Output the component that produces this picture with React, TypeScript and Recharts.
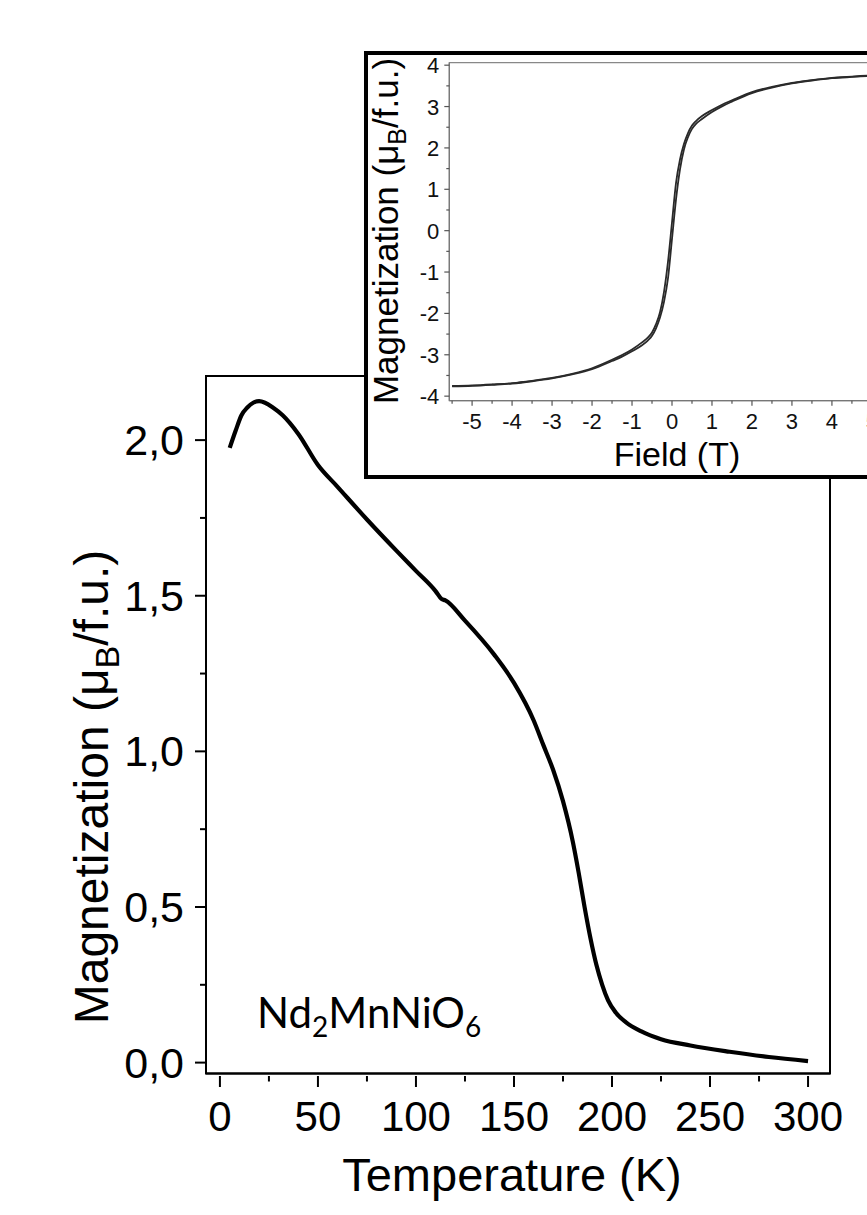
import React from 'react';
import { LineChart, Line, XAxis, YAxis, ReferenceArea, Label } from 'recharts';

// ---------- Main panel: M(T) ----------
const temperatureK = [5, 8, 11, 14, 17, 20, 23, 27, 32, 40, 50, 60, 75, 90, 100, 110, 113, 115, 125, 140, 150, 160, 165, 170, 175, 180, 183, 186, 189, 192, 195, 198, 202, 207, 215, 225, 240, 260, 280, 300];
const magnetizationMT = [1.975, 2.03, 2.08, 2.105, 2.12, 2.125, 2.12, 2.105, 2.08, 2.02, 1.92, 1.85, 1.745, 1.645, 1.58, 1.515, 1.49, 1.485, 1.42, 1.31, 1.22, 1.1, 1.02, 0.94, 0.84, 0.71, 0.61, 0.5, 0.4, 0.315, 0.25, 0.2, 0.16, 0.13, 0.1, 0.075, 0.055, 0.035, 0.018, 0.005];
const tempMajorTicks = [0, 50, 100, 150, 200, 250, 300];
const tempMinorTicks = [25, 75, 125, 175, 225, 275];
const mMajorTicks = [0, 0.5, 1, 1.5, 2];
const mMinorTicks = [0.25, 0.75, 1.25, 1.75];
const TEMP_DOMAIN: [number, number] = [-7.1, 311.2];
const M_DOMAIN: [number, number] = [-0.035, 2.206];

// ---------- Inset: M(H) loop ----------
const fieldT = [-5.5, -5, -4.5, -4, -3.5, -3, -2.5, -2, -1.5, -1.25, -1, -0.75, -0.6, -0.5, -0.4, -0.3, -0.2, -0.1, 0, 0.1, 0.2, 0.3, 0.4, 0.5, 0.6, 0.75, 1, 1.25, 1.5, 2, 2.5, 3, 3.5, 4, 4.5, 5, 5.5];
const mDescending = [-3.755, -3.74, -3.715, -3.685, -3.63, -3.56, -3.46, -3.325, -3.12, -3.005, -2.87, -2.7, -2.58, -2.46, -2.26, -1.97, -1.48, -0.75, 0.2, 1.15, 1.72, 2.1, 2.36, 2.54, 2.65, 2.77, 2.915, 3.045, 3.15, 3.35, 3.475, 3.57, 3.64, 3.695, 3.725, 3.75, 3.765];
const mAscending = [-3.765, -3.75, -3.725, -3.695, -3.64, -3.57, -3.475, -3.35, -3.15, -3.045, -2.915, -2.77, -2.65, -2.54, -2.36, -2.1, -1.72, -1.15, -0.2, 0.75, 1.48, 1.97, 2.26, 2.46, 2.58, 2.7, 2.87, 3.005, 3.12, 3.325, 3.46, 3.56, 3.63, 3.685, 3.715, 3.74, 3.755];
const fieldMajorTicks = [-5, -4, -3, -2, -1, 0, 1, 2, 3, 4, 5];
const fieldMinorTicks = [-5.5, -4.5, -3.5, -2.5, -1.5, -0.5, 0.5, 1.5, 2.5, 3.5, 4.5, 5.5];
const insetMMajorTicks = [-4, -3, -2, -1, 0, 1, 2, 3, 4];
const insetMMinorTicks = [-3.5, -2.5, -1.5, -0.5, 0.5, 1.5, 2.5, 3.5];
const FIELD_DOMAIN: [number, number] = [-5.57, 5.57];
const INSET_M_DOMAIN: [number, number] = [-4.11, 4.06];

const mainData = temperatureK.map((t, i) => ({ t, m: magnetizationMT[i] }));
const insetData = fieldT.map((h, i) => ({ h, down: mDescending[i], up: mAscending[i] }));

const FONT = '"Liberation Sans", Arial, Helvetica, sans-serif';

const MainXTick = (props: any) => {
  const { x, y, payload } = props;
  const major = tempMajorTicks.includes(payload.value);
  return (
    <g>
      <line x1={x} x2={x} y1={y + 2.5} y2={y + (major ? 13.5 : 8)} stroke="#000" strokeWidth={2} />
      {major && (
        <text x={x} y={y + 57.5} textAnchor="middle" fontSize={42} fontFamily={FONT} fill="#000">
          {payload.value}
        </text>
      )}
    </g>
  );
};

const MainYTick = (props: any) => {
  const { x, y, payload } = props;
  const major = mMajorTicks.includes(payload.value);
  return (
    <g>
      <line x1={x - (major ? 11 : 6)} x2={x} y1={y} y2={y} stroke="#000" strokeWidth={2} />
      {major && (
        <text x={x - 22} y={y + 15} textAnchor="end" fontSize={43} fontFamily={FONT} fill="#000">
          {payload.value.toFixed(1).replace('.', ',')}
        </text>
      )}
    </g>
  );
};

const InsetXTick = (props: any) => {
  const { x, y, payload } = props;
  const major = fieldMajorTicks.includes(payload.value);
  return (
    <g>
      <line x1={x} x2={x} y1={y} y2={y + (major ? 5 : 3)} stroke="#555" strokeWidth={1.2} />
      {major && (
        <text x={x} y={y + 28.5} textAnchor="middle" fontSize={22} fontFamily={FONT} fill="#111">
          {payload.value}
        </text>
      )}
    </g>
  );
};

const InsetYTick = (props: any) => {
  const { x, y, payload } = props;
  const major = insetMMajorTicks.includes(payload.value);
  return (
    <g>
      <line x1={x - (major ? 5 : 3)} x2={x} y1={y} y2={y} stroke="#555" strokeWidth={1.2} />
      {major && (
        <text x={x - 10} y={y + 8} textAnchor="end" fontSize={22} fontFamily={FONT} fill="#111">
          {payload.value}
        </text>
      )}
    </g>
  );
};

const MainXTitle = () => (
  <text x={512} y={1191} textAnchor="middle" fontSize={47} fontFamily={FONT} fill="#000">
    Temperature (K)
  </text>
);

const MainYTitle = () => (
  <text
    x={0}
    y={0}
    transform="translate(108 787) rotate(-90)"
    textAnchor="middle"
    fontSize={48}
    fontFamily={FONT}
    fill="#000"
  >
    Magnetization (μ<tspan fontSize={34} dy={11}>B</tspan>
    <tspan dy={-11}>/f.u.)</tspan>
  </text>
);

const InsetXTitle = () => (
  <text x={677} y={466} textAnchor="middle" fontSize={34} fontFamily={FONT} fill="#000">
    Field (T)
  </text>
);

const InsetYTitle = () => (
  <text
    x={0}
    y={0}
    transform="translate(398 231) rotate(-90)"
    textAnchor="middle"
    fontSize={35}
    fontFamily={FONT}
    fill="#000"
  >
    Magnetization (μ<tspan fontSize={25} dy={8}>B</tspan>
    <tspan dy={-8}>/f.u.)</tspan>
  </text>
);

export default function App() {
  return (
    <div style={{ position: 'fixed', left: 0, top: 0, width: 867, height: 1215, overflow: 'hidden', background: '#fff' }}>
      <div style={{ position: 'absolute', left: 0, top: 0 }}>
        <LineChart width={867} height={1215} data={mainData} margin={{ top: 376, right: 37, left: 146, bottom: 111.5 }}>
          <XAxis
            dataKey="t"
            type="number"
            domain={TEMP_DOMAIN}
            allowDataOverflow
            ticks={[...tempMajorTicks, ...tempMinorTicks]}
            interval={0}
            tickSize={0}
            tickMargin={0}
            tickLine={false}
            tick={<MainXTick />}
            axisLine={{ stroke: '#000', strokeWidth: 2 }}
            height={30}
          >
            <Label content={<MainXTitle />} />
          </XAxis>
          <YAxis
            type="number"
            domain={M_DOMAIN}
            allowDataOverflow
            ticks={[...mMajorTicks, ...mMinorTicks]}
            interval={0}
            tickSize={0}
            tickMargin={0}
            tickLine={false}
            tick={<MainYTick />}
            axisLine={{ stroke: '#000', strokeWidth: 2 }}
            width={60}
          >
            <Label content={<MainYTitle />} />
          </YAxis>
          <ReferenceArea x1={TEMP_DOMAIN[0]} x2={TEMP_DOMAIN[1]} y1={M_DOMAIN[0]} y2={M_DOMAIN[1]} fill="none" stroke="#000" strokeWidth={2} />
          <Line type="monotone" dataKey="m" stroke="#000" strokeWidth={4.2} dot={false} isAnimationActive={false} />
        </LineChart>
      </div>
      <div
        style={{
          position: 'absolute',
          left: 364,
          top: 51,
          width: 600,
          height: 428,
          boxSizing: 'border-box',
          border: '4px solid #000',
          background: '#fff',
        }}
      />
      <div style={{ position: 'absolute', left: 0, top: 0 }}>
        <LineChart width={1000} height={500} data={insetData} margin={{ top: 62.7, right: 105.3, left: 389.3, bottom: 69.3 }}>
          <XAxis
            dataKey="h"
            type="number"
            domain={FIELD_DOMAIN}
            allowDataOverflow
            ticks={[...fieldMajorTicks, ...fieldMinorTicks]}
            interval={0}
            tickSize={0}
            tickMargin={0}
            tickLine={false}
            tick={<InsetXTick />}
            axisLine={{ stroke: '#777', strokeWidth: 1.2 }}
            height={30}
          >
            <Label content={<InsetXTitle />} />
          </XAxis>
          <YAxis
            type="number"
            domain={INSET_M_DOMAIN}
            allowDataOverflow
            ticks={[...insetMMajorTicks, ...insetMMinorTicks]}
            interval={0}
            tickSize={0}
            tickMargin={0}
            tickLine={false}
            tick={<InsetYTick />}
            axisLine={{ stroke: '#777', strokeWidth: 1.2 }}
            width={60}
          >
            <Label content={<InsetYTitle />} />
          </YAxis>
          <ReferenceArea x1={FIELD_DOMAIN[0]} x2={FIELD_DOMAIN[1]} y1={INSET_M_DOMAIN[0]} y2={INSET_M_DOMAIN[1]} fill="none" stroke="#888" strokeWidth={1.2} />
          <Line type="monotone" dataKey="down" stroke="#2a2a2a" strokeWidth={1.8} dot={false} isAnimationActive={false} />
          <Line type="monotone" dataKey="up" stroke="#2a2a2a" strokeWidth={1.8} dot={false} isAnimationActive={false} />
        </LineChart>
      </div>
      <div
        style={{
          position: 'absolute',
          left: 257,
          top: 987,
          fontFamily: 'Lato, "Open Sans", sans-serif',
          fontSize: 42,
          lineHeight: '50px',
          color: '#000',
          whiteSpace: 'nowrap',
        }}
      >
        Nd<sub style={{ fontSize: 28, verticalAlign: '-9px' }}>2</sub>MnNiO<sub style={{ fontSize: 28, verticalAlign: '-9px' }}>6</sub>
      </div>
    </div>
  );
}
